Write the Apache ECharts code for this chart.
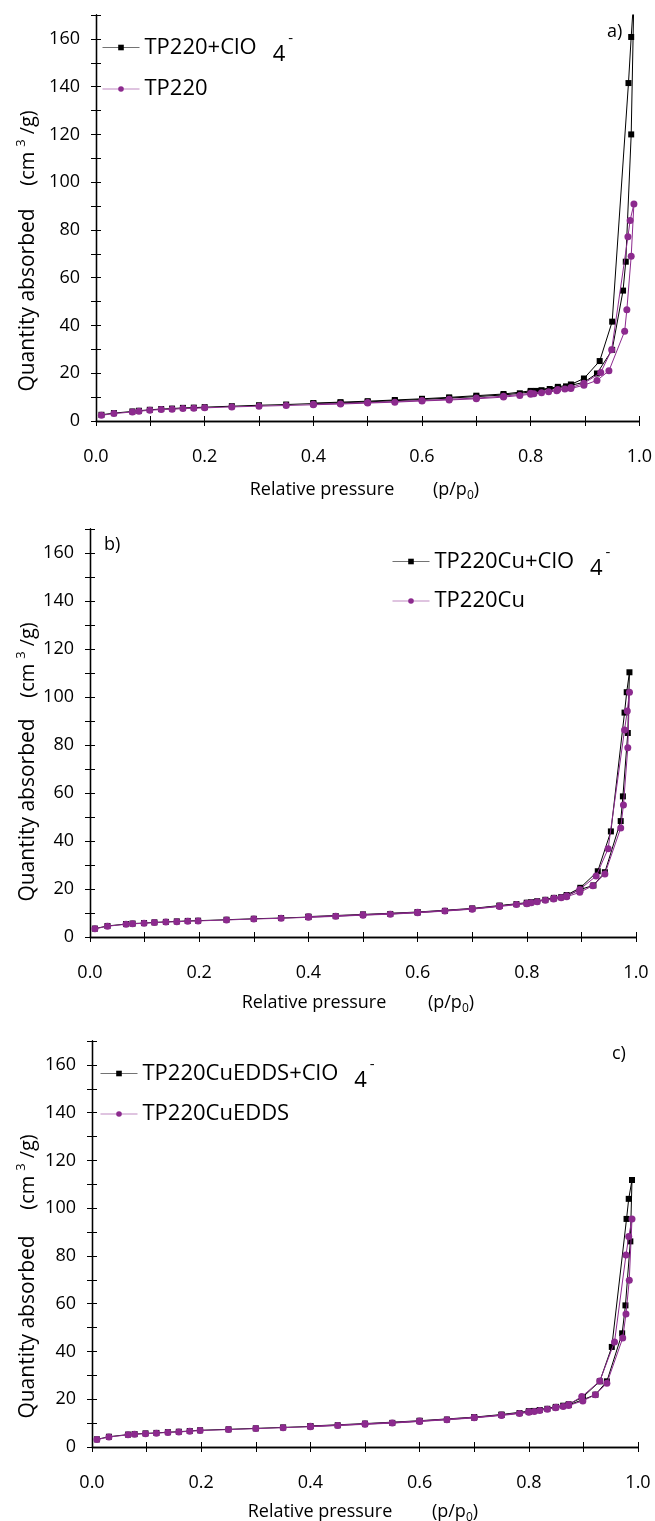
<!DOCTYPE html>
<html>
<head>
<meta charset="utf-8">
<script src="https://cdn.jsdelivr.net/npm/echarts@6/dist/echarts.min.js"></script>
<style>
html,body{margin:0;padding:0;background:#fff;}
#c{width:655px;height:1521px;}
</style>
</head>
<body>
<div id="c"></div>
<script>
// ---------- DATA ----------
const seriesNames = ['TP220+ClO', 'TP220', 'TP220Cu+ClO', 'TP220Cu', 'TP220CuEDDS+ClO', 'TP220CuEDDS'];
const panelLabels = ['a)', 'b)', 'c)'];
const xTickLabels = ['0.0', '0.2', '0.4', '0.6', '0.8', '1.0'];
const yTickLabels = ['0', '20', '40', '60', '80', '100', '120', '140', '160'];

// Panel a) TP220+ClO4-  (adsorption then desorption)
const aClO4Ads = [[0.01,2.6],[0.033,3.3],[0.067,4.0],[0.079,4.3],[0.099,4.7],[0.12,5.0],[0.14,5.2],[0.16,5.5],[0.18,5.6],[0.2,5.8],[0.25,6.2],[0.3,6.6],[0.35,6.9],[0.4,7.3],[0.45,7.6],[0.5,8.0],[0.55,8.5],[0.6,9.0],[0.65,9.6],[0.7,10.2],[0.75,10.9],[0.78,11.6],[0.8,12.2],[0.81,12.6],[0.82,12.9],[0.835,13.4],[0.85,13.9],[0.865,14.5],[0.875,15.0],[0.898,16.2],[0.922,19.9],[0.95,29.8],[0.97,54.6],[0.975,66.7],[0.985,120],[0.99,178]];
const aClO4Des = [[0.985,160.8],[0.98,141.5],[0.95,41.6],[0.927,25.1],[0.898,17.8],[0.874,15.3],[0.85,14.3],[0.8,12.6],[0.75,11.3],[0.7,10.6],[0.65,9.9],[0.6,9.3],[0.55,8.8],[0.5,8.3],[0.45,7.9],[0.4,7.5]];
// Panel a) TP220
const aBaseAds = [[0.01,2.4],[0.033,3.1],[0.067,3.8],[0.079,4.1],[0.099,4.5],[0.12,4.8],[0.14,4.9],[0.16,5.2],[0.18,5.3],[0.2,5.5],[0.25,5.9],[0.3,6.2],[0.35,6.5],[0.4,6.8],[0.45,7.1],[0.5,7.5],[0.55,7.9],[0.6,8.4],[0.65,8.8],[0.7,9.3],[0.75,10.0],[0.78,10.7],[0.8,11.2],[0.806,11.4],[0.82,11.8],[0.833,12.2],[0.848,12.7],[0.863,13.4],[0.874,13.6],[0.898,15.0],[0.922,17.0],[0.944,21.0],[0.973,37.6],[0.977,46.6],[0.985,69.0],[0.99,90.9]];
const aBaseDes = [[0.983,84],[0.979,77.1],[0.949,29.8],[0.929,20.3],[0.898,15.8],[0.874,14.0],[0.85,13.2],[0.8,11.6],[0.75,10.4],[0.7,9.6],[0.65,9.1],[0.6,8.6],[0.5,7.7],[0.4,7.0]];

// Panel b) TP220Cu+ClO4-
const bClO4Ads = [[0.009,3.5],[0.032,4.6],[0.066,5.4],[0.078,5.6],[0.099,5.8],[0.118,6.1],[0.139,6.3],[0.159,6.5],[0.179,6.7],[0.198,6.8],[0.25,7.2],[0.3,7.6],[0.35,7.9],[0.4,8.3],[0.45,8.7],[0.5,9.2],[0.55,9.6],[0.6,10.2],[0.65,10.9],[0.7,11.7],[0.75,12.9],[0.781,13.7],[0.8,14.0],[0.808,14.5],[0.819,14.9],[0.834,15.5],[0.849,16.0],[0.863,16.6],[0.873,17.1],[0.898,19.8],[0.922,21.5],[0.943,27.0],[0.972,48.3],[0.976,58.6],[0.985,85.0],[0.988,110.3]];
const bClO4Des = [[0.983,102],[0.979,93.5],[0.954,44.0],[0.93,27.4],[0.898,20.5],[0.873,17.5],[0.85,16.3],[0.8,14.3],[0.75,13.1],[0.7,11.9],[0.6,10.4],[0.5,9.4],[0.4,8.5]];
// Panel b) TP220Cu
const bBaseAds = [[0.009,3.4],[0.032,4.5],[0.066,5.3],[0.078,5.5],[0.099,5.7],[0.118,6.0],[0.139,6.2],[0.159,6.4],[0.179,6.6],[0.198,6.7],[0.25,7.1],[0.3,7.5],[0.35,7.8],[0.4,8.2],[0.45,8.6],[0.5,9.1],[0.55,9.5],[0.6,10.1],[0.65,10.8],[0.7,11.6],[0.75,12.7],[0.781,13.5],[0.8,13.9],[0.808,14.3],[0.819,14.7],[0.834,15.3],[0.849,15.8],[0.863,16.4],[0.873,16.8],[0.897,18.6],[0.921,21.4],[0.943,26.3],[0.972,45.4],[0.977,55.0],[0.985,78.9],[0.988,102]];
const bBaseDes = [[0.984,94.2],[0.979,86.3],[0.949,36.8],[0.927,25.4],[0.897,19.8],[0.873,17.2],[0.85,16.1],[0.8,14.1],[0.75,12.9],[0.7,11.8],[0.6,10.3],[0.5,9.3],[0.4,8.4]];

// Panel c) TP220CuEDDS+ClO4-
const cClO4Ads = [[0.009,3.2],[0.031,4.3],[0.066,5.2],[0.078,5.4],[0.098,5.7],[0.118,5.9],[0.139,6.2],[0.159,6.4],[0.179,6.7],[0.198,7.0],[0.25,7.4],[0.3,7.8],[0.35,8.2],[0.4,8.6],[0.45,9.1],[0.5,9.6],[0.55,10.1],[0.6,10.8],[0.65,11.5],[0.7,12.3],[0.75,13.4],[0.783,14.2],[0.8,14.7],[0.81,15.1],[0.82,15.5],[0.834,16.0],[0.849,16.6],[0.863,17.3],[0.873,17.6],[0.899,19.8],[0.922,21.9],[0.943,27.5],[0.971,47.6],[0.977,59.3],[0.986,86.1],[0.989,111.8]];
const cClO4Des = [[0.983,103.9],[0.979,95.5],[0.952,41.9],[0.93,27.5],[0.899,20.9],[0.873,17.9],[0.85,16.8],[0.8,15.0],[0.75,13.6],[0.7,12.5],[0.6,11.0],[0.5,9.8],[0.4,8.8]];
// Panel c) TP220CuEDDS
const cBaseAds = [[0.009,3.1],[0.031,4.2],[0.066,5.1],[0.078,5.3],[0.098,5.6],[0.118,5.8],[0.139,6.1],[0.159,6.3],[0.179,6.6],[0.198,6.9],[0.25,7.3],[0.3,7.7],[0.35,8.1],[0.4,8.5],[0.45,9.0],[0.5,9.5],[0.55,10.0],[0.6,10.7],[0.65,11.4],[0.7,12.2],[0.75,13.2],[0.783,14.0],[0.8,14.5],[0.81,14.9],[0.82,15.3],[0.834,15.8],[0.849,16.4],[0.863,17.0],[0.873,17.4],[0.899,19.3],[0.922,21.9],[0.943,26.7],[0.972,45.6],[0.978,55.7],[0.984,69.8],[0.989,95.5]];
const cBaseDes = [[0.983,88.1],[0.978,80.4],[0.957,44.0],[0.93,27.6],[0.897,21.1],[0.873,17.8],[0.85,16.6],[0.8,14.8],[0.75,13.4],[0.7,12.4],[0.6,10.9],[0.5,9.7],[0.4,8.7]];

// ---------- STYLE / LAYOUT ----------
const BLACK = '#000000';
const PURPLE = '#8c2a8e';
const FONT = '"Open Sans", "Noto Sans", sans-serif';
const grids = [
  {left: 96, right: 13, top: 15, height: 406},
  {left: 90, right: 19, top: 529, height: 408},
  {left: 92, right: 17, top: 1041, height: 406}
];
const panelData = [
  [aClO4Ads.concat(aClO4Des), aBaseAds.concat(aBaseDes)],
  [bClO4Ads.concat(bClO4Des), bBaseAds.concat(bBaseDes)],
  [cClO4Ads.concat(cClO4Des), cBaseAds.concat(cBaseDes)]
];
const legendPos = [
  [{left: 102, top: 31}, {left: 102, top: 78}],
  [{left: 392, top: 545}, {left: 392, top: 590}],
  [{left: 100, top: 1057}, {left: 100, top: 1103}]
];
const labelPos = [{x: 607, y: 35}, {x: 104, y: 548}, {x: 612, y: 1057}];
const yNamePos = [{q: 300, u: 148}, {q: 810, u: 660}, {q: 1327, u: 1172}];
const xNameY = [490, 1003, 1512];
const xNameX = [{r: 322, p: 456}, {r: 314, p: 451}, {r: 320, p: 455}];

const xAxes = [], yAxes = [], series = [], legends = [], graphics = [];
const axisLine = {show: true, lineStyle: {color: '#000', width: 1.3}};
const tick = {show: true, inside: false, length: 5, lineStyle: {color: '#000', width: 1}};

grids.forEach((g, i) => {
  xAxes.push({
    type: 'value', gridIndex: i, position: 'bottom', min: 0, max: 1, interval: 0.1,
    axisLine, axisTick: tick, splitLine: {show: false},
    axisLabel: {
      margin: 27, fontFamily: FONT, fontSize: 18, color: '#000',
      formatter: v => { const k = Math.round(v * 10); return k % 2 === 0 ? xTickLabels[k / 2] : ''; }
    }
  });
  xAxes.push({
    type: 'value', gridIndex: i, position: 'top', min: 0, max: 1, interval: 0.1,
    axisLine, axisTick: tick, axisLabel: {show: false}, splitLine: {show: false}
  });
  yAxes.push({
    type: 'value', gridIndex: i, position: 'left', min: 0, max: 170, interval: 10,
    axisLine, axisTick: tick, splitLine: {show: false},
    axisLabel: {
      margin: 16, fontFamily: FONT, fontSize: 18, color: '#000',
      formatter: v => { const k = Math.round(v / 10); return (k % 2 === 0 && k <= 16) ? yTickLabels[k / 2] : ''; }
    }
  });
  yAxes.push({
    type: 'value', gridIndex: i, position: 'right', min: 0, max: 170, interval: 10,
    axisLine, axisTick: tick, axisLabel: {show: false}, splitLine: {show: false}
  });

  const names = [seriesNames[2 * i], seriesNames[2 * i + 1]];
  const cols = [BLACK, PURPLE];
  const syms = ['rect', 'circle'];
  const sizes = [6, 7];
  names.forEach((nm, j) => {
    series.push({
      name: nm, type: 'line', xAxisIndex: 2 * i, yAxisIndex: 2 * i,
      data: panelData[i][j],
      symbol: syms[j], symbolSize: sizes[j], showAllSymbol: true,
      lineStyle: {color: cols[j], width: 1},
      itemStyle: {color: cols[j], borderWidth: 0},
      clip: true, z: 3 + j, animation: false
    });
    const isClO = nm.endsWith('+ClO');
    legends.push({
      data: [nm], orient: 'vertical', left: legendPos[i][j].left, top: legendPos[i][j].top,
      padding: 0, itemWidth: 37, itemHeight: 7, itemGap: 0,
      itemStyle: {color: cols[j]},
      lineStyle: {color: cols[j], width: 1, opacity: 0.55},
      textStyle: {
        fontFamily: FONT, fontSize: 22, color: '#000',
        rich: {
          t: {fontFamily: FONT, fontSize: 22, color: '#000'},
          s: {fontFamily: FONT, fontSize: 22, color: '#000', padding: [14, 0, 0, 16]},
          p: {fontFamily: FONT, fontSize: 15, color: '#000', padding: [0, 0, 18, 3]}
        }
      },
      formatter: n => isClO ? '{t|' + n + '}{s|4}{p|-}' : '{t|' + n + '}'
    });
  });

  graphics.push({type: 'text', left: labelPos[i].x, top: labelPos[i].y - 12, z: 10,
    style: {text: panelLabels[i], font: '18px ' + FONT, fill: '#000'}});
  graphics.push({type: 'text', x: 28, y: yNamePos[i].q, rotation: Math.PI / 2, z: 10,
    style: {text: 'Quantity absorbed', font: '21px ' + FONT, fill: '#000', align: 'center', verticalAlign: 'middle'}});
  graphics.push({type: 'text', x: 28, y: yNamePos[i].u, rotation: Math.PI / 2, z: 10,
    style: {text: '{a|(cm}{s|3}{a|/g)}', align: 'center', verticalAlign: 'middle',
      rich: {a: {font: '20px ' + FONT, fill: '#000', color: '#000'},
             s: {font: '13px ' + FONT, fill: '#000', color: '#000', padding: [0, 5, 14, 5]}}}});
  graphics.push({type: 'text', x: xNameX[i].r, y: xNameY[i], z: 10,
    style: {text: 'Relative pressure', font: '18px ' + FONT, fill: '#000', align: 'center', verticalAlign: 'middle'}});
  graphics.push({type: 'text', x: xNameX[i].p, y: xNameY[i], z: 10,
    style: {text: '{a|(p/p}{s|0}{a|)}', align: 'center', verticalAlign: 'middle',
      rich: {a: {font: '18px ' + FONT, fill: '#000', color: '#000'},
             s: {font: '12px ' + FONT, fill: '#000', color: '#000', padding: [12, 0, 0, 0]}}}});
});

const chart = echarts.init(document.getElementById('c'), null, {renderer: 'canvas'});
chart.setOption({
  backgroundColor: '#fff',
  animation: false,
  grid: grids,
  xAxis: xAxes,
  yAxis: yAxes,
  legend: legends,
  series: series,
  graphic: graphics
});
</script>
</body>
</html>
